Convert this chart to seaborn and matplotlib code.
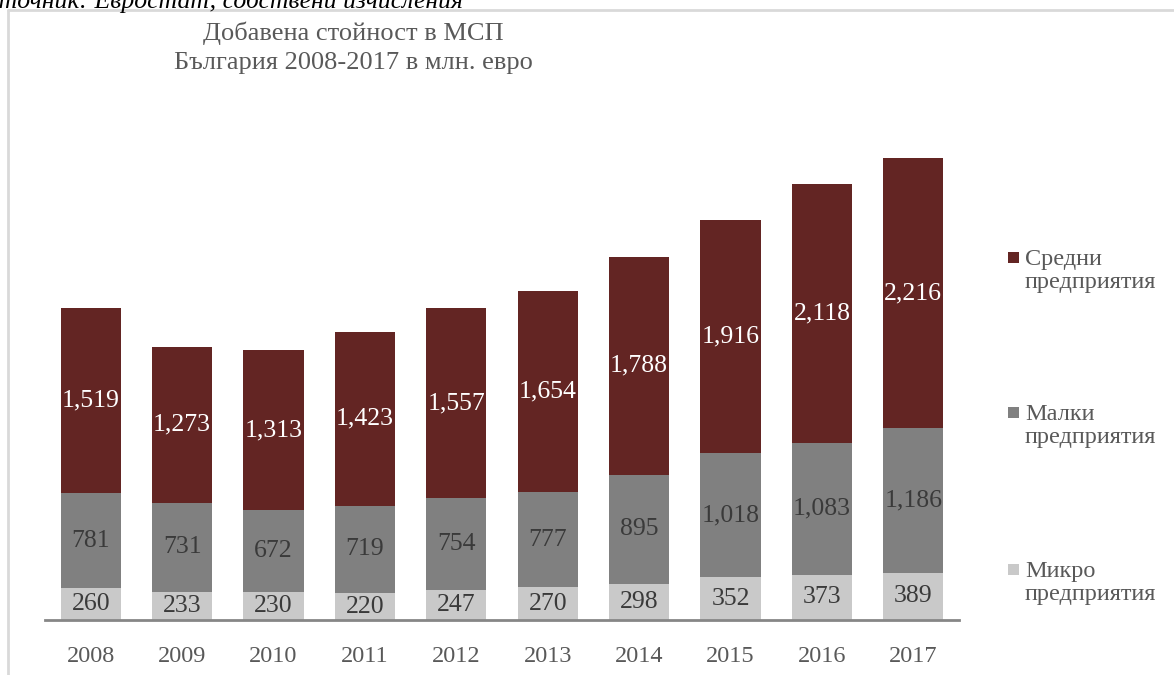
import matplotlib.pyplot as plt
import matplotlib.patches as mpatches
import pandas as pd
import seaborn as sns

YEARS = ["2008", "2009", "2010", "2011", "2012", "2013", "2014", "2015", "2016", "2017"]
MICRO = [260, 233, 230, 220, 247, 270, 298, 352, 373, 389]
SMALL = [781, 731, 672, 719, 754, 777, 895, 1018, 1083, 1186]
MEDIUM = [1519, 1273, 1313, 1423, 1557, 1654, 1788, 1916, 2118, 2216]

SERIES = ["Средни\nпредприятия", "Малки\nпредприятия", "Микро\nпредприятия"]
COLORS = ["#632523", "#808080", "#C9C9C9"]
LABEL_COLORS = ["white", "#3a3a3a", "#3a3a3a"]
TEXT = "#595959"

sns.set_theme(style="white")
plt.rcParams["font.family"] = ["Liberation Serif", "DejaVu Serif"]

df = pd.DataFrame({"year": YEARS, "micro": MICRO, "small": SMALL, "medium": MEDIUM})
df["s1"] = df["micro"]
df["s2"] = df["micro"] + df["small"]
df["s3"] = df["s2"] + df["medium"]

fig = plt.figure(figsize=(11.74, 6.75), dpi=100)
ax = fig.add_axes([45 / 1174, 55 / 675, 914 / 1174, 487.5 / 675])

# stacked bars drawn as overlapping cumulative totals
for col, color in zip(["s3", "s2", "s1"], COLORS):
    sns.barplot(data=df, x="year", y=col, color=color, width=0.66,
                saturation=1, ax=ax, edgecolor="none")

for i in range(len(YEARS)):
    segs = [(df["s2"][i], MEDIUM[i]), (df["s1"][i], SMALL[i]), (0, MICRO[i])]
    for (bottom, val), c in zip(segs, LABEL_COLORS):
        ax.text(i, bottom + val / 2, f"{val:,}", ha="center", va="center",
                color=c, fontsize=18.5)

ax.set_xlim(-0.5, 9.5)
ax.set_ylim(0, 4000)
ax.set_xlabel("")
ax.set_ylabel("")
ax.set_yticks([])
ax.tick_params(axis="x", length=0, pad=19, labelsize=17.5, labelcolor=TEXT)
for s in ["top", "right", "left"]:
    ax.spines[s].set_visible(False)
ax.spines["bottom"].set_color("#868686")
ax.spines["bottom"].set_linewidth(2)

fig.text(353 / 1174, 1 - 33 / 675, "Добавена стойност в МСП", ha="center",
         va="center", fontsize=19, color=TEXT)
fig.text(353 / 1174, 1 - 63 / 675, "България 2008-2017 в млн. евро",
         ha="center", va="center", fontsize=19, color=TEXT)

# source note, partly cut off above the chart frame as in the original
fig.text(-30 / 1174, 1 - 1 / 675, "Източник: Евростат, собствени изчисления",
         ha="left", va="center", fontsize=18.5, style="italic", color="black")

# chart frame
fig.add_artist(plt.Line2D([8 / 1174, 8 / 1174], [0, 1 - 10 / 675],
                          transform=fig.transFigure, color="#d9d9d9", lw=2))
fig.add_artist(plt.Line2D([8 / 1174, 1], [1 - 10 / 675, 1 - 10 / 675],
                          transform=fig.transFigure, color="#d9d9d9", lw=2))

# legend
for label, color, y in zip(SERIES, COLORS, [258, 413, 570]):
    fig.add_artist(mpatches.Rectangle((1008 / 1174, 1 - (y + 5) / 675),
                                      11 / 1174, 11 / 675,
                                      transform=fig.transFigure,
                                      facecolor=color, edgecolor="none"))
    fig.text(1025 / 1174, 1 - (y - 9) / 675, label, ha="left", va="top",
             fontsize=17.5, color=TEXT, linespacing=1.1)

fig.savefig("out.png", dpi=100)
